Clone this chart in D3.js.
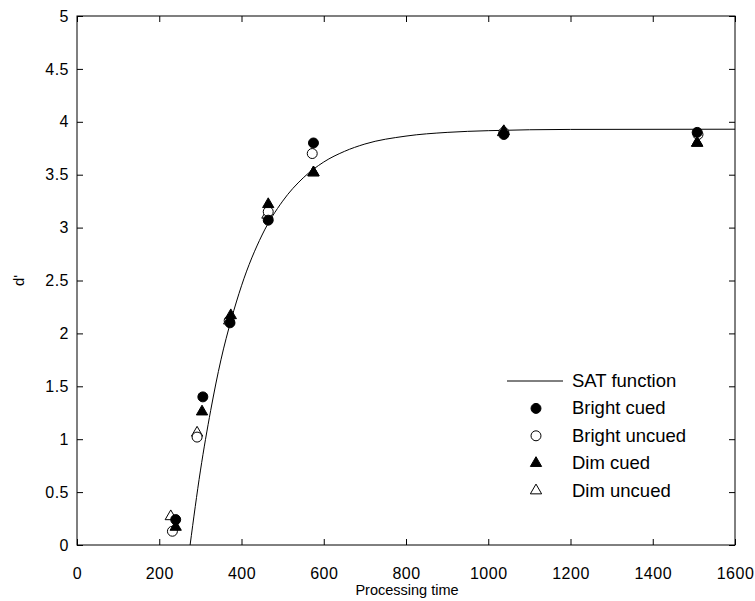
<!DOCTYPE html>
<html><head><meta charset="utf-8">
<script src="https://cdn.jsdelivr.net/npm/d3@7"></script>
<style>body{margin:0;background:#fff}svg{display:block}text{font-family:"Liberation Sans",Arial,sans-serif;fill:#000}</style>
</head><body><svg id="c" width="755" height="601"></svg>
<script>
const xTicks = [0,200,400,600,800,1000,1200,1400,1600];
const xTickLabels = ["0","200","400","600","800","1000","1200","1400","1600"];
const yTicks = [0,0.5,1,1.5,2,2.5,3,3.5,4,4.5,5];
const yTickLabels = ["0","0.5","1","1.5","2","2.5","3","3.5","4","4.5","5"];

const brightCuedT = [240,306,372,465,575,1038,1508];
const brightCued  = [0.24,1.40,2.10,3.07,3.80,3.88,3.90];
const brightUncuedT = [232,292,370,465,572,1038,1510];
const brightUncued  = [0.13,1.02,2.12,3.15,3.70,3.90,3.88];
const dimCuedT = [240,304,374,465,575,1038,1508];
const dimCued  = [0.17,1.26,2.17,3.22,3.52,3.91,3.80];
const dimUncuedT = [228,292,370,463,575,1036,1508];
const dimUncued  = [0.27,1.06,2.12,3.12,3.52,3.90,3.80];

const satT = [275,300,325,350,375,400,450,500,550,600,650,700,800,900,1000,1200,1600];
const satD = [0,0.70,1.27,1.75,2.13,2.45,2.93,3.25,3.47,3.62,3.72,3.79,3.865,3.90,3.916,3.928,3.93];

const legendLabels = ["SAT function","Bright cued","Bright uncued","Dim cued","Dim uncued"];

const L=77,R=735,T=16,B=545;
const svg=d3.select("#c");
const x=d3.scaleLinear().domain([0,1600]).range([L,R]);
const y=d3.scaleLinear().domain([0,5]).range([B,T]);

svg.append("rect").attr("x",L).attr("y",T).attr("width",R-L).attr("height",B-T)
  .attr("fill","none").attr("stroke","#000").attr("stroke-width",1);

const tl=6;
const gxb=svg.append("g").attr("transform",`translate(0,${B})`)
  .call(d3.axisBottom(x).tickValues(xTicks).tickSizeInner(-tl).tickSizeOuter(0).tickPadding(28)
    .tickFormat((d,i)=>xTickLabels[i]));
const gxt=svg.append("g").attr("transform",`translate(0,${T})`)
  .call(d3.axisTop(x).tickValues(xTicks).tickSizeInner(-tl).tickSizeOuter(0).tickFormat(""));
const gyl=svg.append("g").attr("transform",`translate(${L},0)`)
  .call(d3.axisLeft(y).tickValues(yTicks).tickSizeInner(-tl).tickSizeOuter(0).tickPadding(8)
    .tickFormat((d,i)=>yTickLabels[i]));
const gyr=svg.append("g").attr("transform",`translate(${R},0)`)
  .call(d3.axisRight(y).tickValues(yTicks).tickSizeInner(-tl).tickSizeOuter(0).tickFormat(""));
[gxb,gxt,gyl,gyr].forEach(g=>{
  g.attr("font-size",16).attr("font-family","'Liberation Sans',Arial,sans-serif");
  g.select(".domain").remove();
  g.selectAll("line").attr("stroke","#000");
  g.selectAll("text").attr("fill","#000").attr("letter-spacing","0.5px");
});
gxb.selectAll("text").attr("dy","0.35em");

svg.append("text").attr("x",(L+R)/2+1).attr("y",595).attr("text-anchor","middle").attr("font-size",14.5).text("Processing time");
svg.append("text").attr("transform",`translate(24,${(T+B)/2}) rotate(-90)`).attr("text-anchor","middle").attr("font-size",15).text("d'");

const line=d3.line().x((d,i)=>x(satT[i])).y(d=>y(d)).curve(d3.curveMonotoneX);
svg.append("path").attr("d",line(satD)).attr("fill","none").attr("stroke","#000").attr("stroke-width",1);

const circ=d3.symbol().type(d3.symbolCircle).size(78);
const tri=d3.symbol().type(d3.symbolTriangle).size(55);
function draw(ts,vs,sym,filled){
  svg.append("g").selectAll("path").data(vs).join("path")
    .attr("d",sym)
    .attr("transform",(d,i)=>`translate(${x(ts[i])},${y(d)})`)
    .attr("fill",filled?"#000":"#fff").attr("stroke","#000").attr("stroke-width",1);
}
draw(dimUncuedT,dimUncued,tri,false);
draw(brightUncuedT,brightUncued,circ,false);
draw(dimCuedT,dimCued,tri,true);
draw(brightCuedT,brightCued,circ,true);

const lx=507, ly0=381, dy=27.4;
const lg=svg.append("g");
lg.append("line").attr("x1",lx).attr("x2",563).attr("y1",ly0).attr("y2",ly0).attr("stroke","#000");
const syms=[null,[circ,true],[circ,false],[tri,true],[tri,false]];
legendLabels.forEach((t,i)=>{
  const yy=ly0+i*dy;
  if(syms[i]) lg.append("path").attr("d",syms[i][0]).attr("transform",`translate(536,${yy})`)
    .attr("fill",syms[i][1]?"#000":"#fff").attr("stroke","#000");
  lg.append("text").attr("x",572).attr("y",yy+6).attr("font-size",18.5).text(t);
});
</script></body></html>
